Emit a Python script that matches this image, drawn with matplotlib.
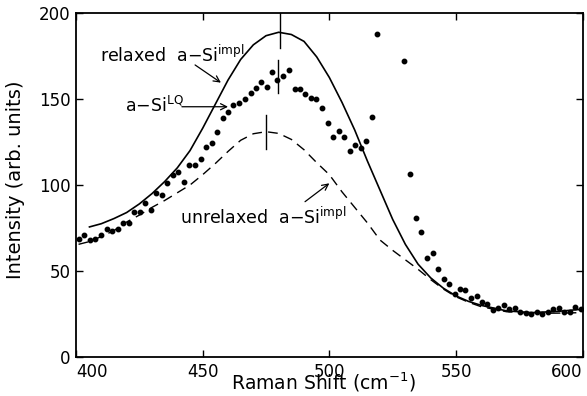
import matplotlib
matplotlib.use("Agg")
import matplotlib.pyplot as plt

# measured data (a-Si^LQ)
shift_pts = [401.2, 403.3, 405.5, 407.6, 409.8, 412.1, 414.3, 416.6, 418.7, 420.8,
             422.9, 425.1, 427.2, 429.5, 431.7, 433.9, 436.0, 438.2, 440.4, 442.6,
             444.7, 447.0, 449.2, 451.3, 453.6, 455.8, 457.9, 460.1, 462.1, 464.3,
             466.7, 469.0, 471.1, 473.2, 475.3, 477.4, 479.5, 481.8, 484.0, 486.3,
             488.4, 490.5, 492.6, 494.7, 497.1, 499.4, 501.6, 503.7, 505.9, 508.2,
             510.3, 512.5, 514.5, 516.7, 518.7, 529.6, 532.0, 534.2, 536.3, 538.6,
             540.8, 542.9, 545.1, 547.4, 549.5, 551.7, 553.7, 555.9, 558.2, 560.3,
             562.4, 564.5, 566.7, 568.8, 571.0, 573.3, 575.3, 577.5, 579.6, 581.9,
             584.0, 586.2, 588.4, 590.5, 592.8, 594.9, 597.0, 599.2]
intens_pts = [68.4, 70.9, 67.8, 68.8, 71.1, 74.2, 73.3, 74.4, 78.1, 78.1,
              84.3, 84.1, 89.4, 85.5, 95.3, 94.1, 101.3, 105.8, 107.7, 101.9,
              111.6, 111.6, 115.3, 122.3, 124.2, 131.0, 138.8, 142.3, 146.5, 147.5,
              150.0, 153.7, 156.6, 159.7, 156.8, 165.9, 161.0, 163.5, 166.9, 155.8,
              155.8, 152.9, 150.8, 150.2, 144.6, 135.9, 128.1, 131.6, 128.1, 119.6,
              123.3, 121.7, 125.6, 139.4, 187.6, 172.3, 106.6, 80.6, 72.8, 57.7,
              60.6, 51.0, 45.2, 42.4, 36.5, 39.5, 39.1, 34.1, 35.6, 32.2,
              30.8, 27.3, 28.3, 30.4, 27.7, 28.7, 26.3, 25.4, 24.8, 26.3,
              24.8, 26.0, 27.7, 28.3, 26.0, 26.0, 29.2, 27.7]

# relaxed a-Si^impl (solid)
shift_relaxed = [405, 410, 415, 420, 425, 430, 435, 440, 445, 450, 455, 460, 465, 470,
                 475, 480, 485, 490, 495, 500, 505, 510, 515, 520, 525, 530, 535, 540,
                 545, 550, 555, 560, 570, 580, 590, 600]
intens_relaxed = [75.5, 77.5, 80.5, 84, 89, 95, 102, 110, 120, 133, 147, 161, 173, 181.5,
                  186.8, 188.8, 187.5, 183.5, 174.5, 162.5, 148, 132, 114, 97, 80, 65.5, 54, 46,
                  40, 35.5, 32.3, 30, 26.8, 25.8, 26.5, 27.8]

# unrelaxed a-Si^impl (dashed)
shift_unrelaxed = [401, 405, 410, 415, 420, 425, 430, 435, 440, 445, 450, 455, 460, 465,
                   470, 475, 480, 485, 490, 495, 500, 505, 510, 515, 520, 525, 530, 535,
                   540, 545, 550, 555, 560, 570, 580, 590, 600]
intens_unrelaxed = [65.5, 67, 70, 73.5, 78.5, 82.5, 87, 91, 95.5, 100, 106, 112.5, 119.5, 126,
                    129.8, 131, 130, 126.5, 120.5, 113, 106, 96, 87, 78, 68, 62, 56.5, 51,
                    45, 39.5, 35, 31.8, 29.2, 26.3, 25.4, 25.5, 25.8]

xticks = [400, 450, 500, 550, 600]
yticks = [0, 50, 100, 150, 200]

plt.rcParams['font.family'] = ['DejaVu Sans']
fig = plt.figure(figsize=(5.87, 3.96), dpi=100)
ax = fig.add_axes([76/587, 1-357/396, (582.7-76)/587, (357-13)/396])

ax.plot(shift_relaxed, intens_relaxed, color='black', lw=1.2, solid_capstyle='butt')
ax.plot(shift_unrelaxed, intens_unrelaxed, color='black', lw=1.0, dashes=(7, 4.5))
ax.plot(shift_pts, intens_pts, 'o', color='black', ms=3.2, clip_on=True)

# peak markers
ax.plot([480.5, 480.5], [179.5, 200], color='black', lw=1.0)
ax.plot([479.9, 479.9], [153.3, 172.7], color='black', lw=1.0)
ax.plot([474.9, 474.9], [120.8, 140.7], color='black', lw=1.0)

ax.set_xlim(400, 600)
ax.set_ylim(0, 200)
ax.set_xticks(xticks)
ax.set_yticks(yticks)
ax.tick_params(direction='in', top=True, right=True, length=5, width=1.0,
               labelsize=12, pad=4)
xl = ax.get_xticklabels()
xl[0].set_horizontalalignment('left')
xl[-1].set_horizontalalignment('right')
for s in ax.spines.values():
    s.set_linewidth(1.3)

ax.set_xlabel('Raman Shift (cm$^{-1}$)', fontsize=13.5, va='top')
ax.xaxis.set_label_coords(0.488, -0.040)
ax.set_ylabel('Intensity (arb. units)', fontsize=14, va='center')
ax.yaxis.set_label_coords(-0.12, 0.515)

arr = dict(arrowstyle='->', color='black', lw=0.9, mutation_scale=11,
           shrinkA=0, shrinkB=0)
ax.text(409.5, 171.5, 'relaxed  a$-$Si$^{\\mathrm{impl}}$', fontsize=12.5, va='baseline')
ax.annotate('', xy=(457.2, 159.5), xytext=(447, 169.8), arrowprops=arr)
ax.text(419.3, 142.6, 'a$-$Si$^{\\mathrm{LQ}}$', fontsize=12.5, va='baseline')
ax.annotate('', xy=(460, 145.5), xytext=(441.8, 145.5), arrowprops=arr)
ax.text(441, 77.7, 'unrelaxed  a$-$Si$^{\\mathrm{impl}}$', fontsize=12.5, va='baseline')
ax.annotate('', xy=(500, 101), xytext=(490.4, 90.3), arrowprops=arr)

fig.savefig('out.png', dpi=100)
